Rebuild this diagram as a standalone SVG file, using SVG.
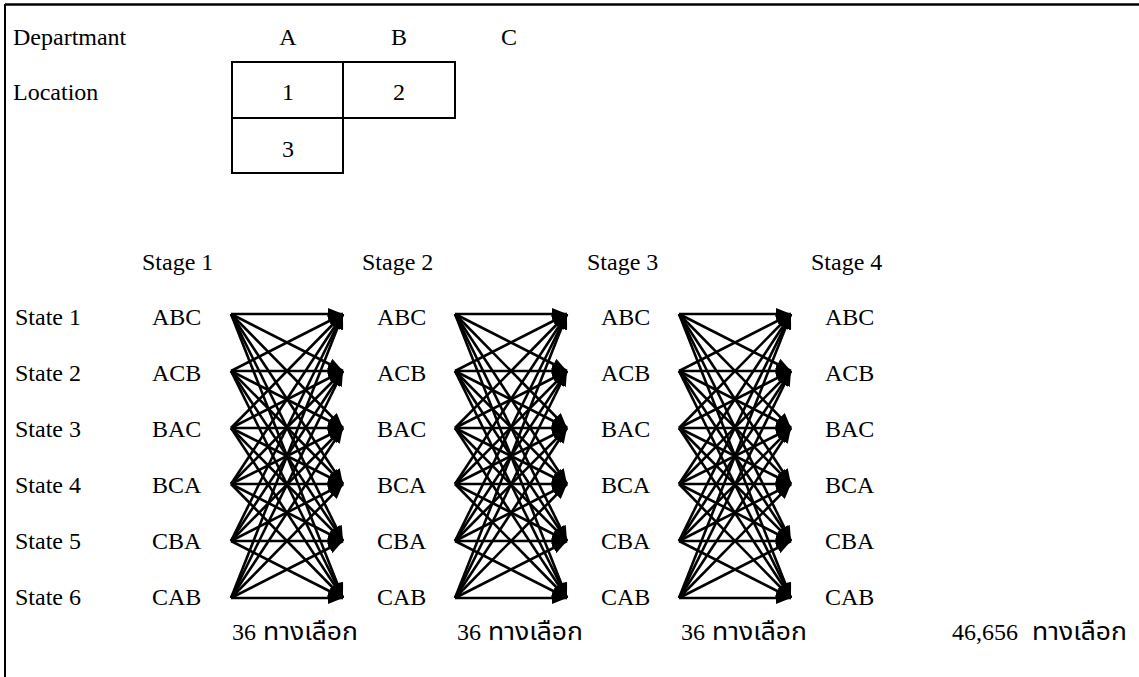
<svg xmlns="http://www.w3.org/2000/svg" width="1139" height="677" viewBox="0 0 1139 677">
<style>
text{font-family:"Liberation Serif","Times New Roman",serif;font-size:24px;fill:#000}
.th{font-family:"Liberation Serif","Noto Sans Thai","Noto Serif Thai","Noto Sans",serif}
.c{text-anchor:middle}
.box{fill:none;stroke:#000;stroke-width:2}
.cn line{stroke:#000;stroke-width:2.6;marker-end:url(#ah)}
</style>
<defs>
<marker id="ah" markerUnits="userSpaceOnUse" markerWidth="16" markerHeight="12" refX="15" refY="6" orient="auto">
<path d="M0,0 L15,6 L0,12 z" fill="#000"/>
</marker>
</defs>
<rect width="1139" height="677" fill="#fff"/>
<g id="frame"><line x1="5" y1="4.5" x2="1139" y2="4.5" stroke="#000" stroke-width="2.5"/><line x1="5" y1="4" x2="5" y2="677" stroke="#000" stroke-width="2"/></g>
<g id="header">
<text x="13" y="45">Departmant</text>
<text class="c" x="288" y="45">A</text>
<text class="c" x="399" y="45">B</text>
<text class="c" x="509" y="45">C</text>
<text x="13" y="100">Location</text>
</g>
<g id="location-grid">
<rect class="box" x="232" y="62" width="111" height="56"/>
<rect class="box" x="343" y="62" width="112" height="56"/>
<rect class="box" x="232" y="118" width="111" height="55"/>
<text class="c" x="288" y="100">1</text>
<text class="c" x="399" y="100">2</text>
<text class="c" x="288" y="157">3</text>
</g>
<g id="stage-labels">
<text x="142" y="270">Stage 1</text>
<text x="362" y="270">Stage 2</text>
<text x="587" y="270">Stage 3</text>
<text x="811" y="270">Stage 4</text>
</g>
<g id="state-labels">
<text x="15" y="325">State 1</text>
<text x="15" y="381">State 2</text>
<text x="15" y="437">State 3</text>
<text x="15" y="493">State 4</text>
<text x="15" y="549">State 5</text>
<text x="15" y="605">State 6</text>
</g>
<g id="stage1-nodes">
<text x="152" y="325">ABC</text><text x="152" y="381">ACB</text><text x="152" y="437">BAC</text><text x="152" y="493">BCA</text><text x="152" y="549">CBA</text><text x="152" y="605">CAB</text>
</g>
<g id="stage2-nodes">
<text x="377" y="325">ABC</text><text x="377" y="381">ACB</text><text x="377" y="437">BAC</text><text x="377" y="493">BCA</text><text x="377" y="549">CBA</text><text x="377" y="605">CAB</text>
</g>
<g id="stage3-nodes">
<text x="601" y="325">ABC</text><text x="601" y="381">ACB</text><text x="601" y="437">BAC</text><text x="601" y="493">BCA</text><text x="601" y="549">CBA</text><text x="601" y="605">CAB</text>
</g>
<g id="stage4-nodes">
<text x="825" y="325">ABC</text><text x="825" y="381">ACB</text><text x="825" y="437">BAC</text><text x="825" y="493">BCA</text><text x="825" y="549">CBA</text><text x="825" y="605">CAB</text>
</g>
<g id="connectors" class="cn">
<line x1="231" y1="314" x2="343" y2="314"/><line x1="231" y1="314" x2="343" y2="371"/><line x1="231" y1="314" x2="343" y2="428"/><line x1="231" y1="314" x2="343" y2="484"/><line x1="231" y1="314" x2="343" y2="541"/><line x1="231" y1="314" x2="343" y2="598"/>
<line x1="231" y1="371" x2="343" y2="314"/><line x1="231" y1="371" x2="343" y2="371"/><line x1="231" y1="371" x2="343" y2="428"/><line x1="231" y1="371" x2="343" y2="484"/><line x1="231" y1="371" x2="343" y2="541"/><line x1="231" y1="371" x2="343" y2="598"/>
<line x1="231" y1="428" x2="343" y2="314"/><line x1="231" y1="428" x2="343" y2="371"/><line x1="231" y1="428" x2="343" y2="428"/><line x1="231" y1="428" x2="343" y2="484"/><line x1="231" y1="428" x2="343" y2="541"/><line x1="231" y1="428" x2="343" y2="598"/>
<line x1="231" y1="484" x2="343" y2="314"/><line x1="231" y1="484" x2="343" y2="371"/><line x1="231" y1="484" x2="343" y2="428"/><line x1="231" y1="484" x2="343" y2="484"/><line x1="231" y1="484" x2="343" y2="541"/><line x1="231" y1="484" x2="343" y2="598"/>
<line x1="231" y1="541" x2="343" y2="314"/><line x1="231" y1="541" x2="343" y2="371"/><line x1="231" y1="541" x2="343" y2="428"/><line x1="231" y1="541" x2="343" y2="484"/><line x1="231" y1="541" x2="343" y2="541"/><line x1="231" y1="541" x2="343" y2="598"/>
<line x1="231" y1="598" x2="343" y2="314"/><line x1="231" y1="598" x2="343" y2="371"/><line x1="231" y1="598" x2="343" y2="428"/><line x1="231" y1="598" x2="343" y2="484"/><line x1="231" y1="598" x2="343" y2="541"/><line x1="231" y1="598" x2="343" y2="598"/>
<line x1="455" y1="314" x2="567" y2="314"/><line x1="455" y1="314" x2="567" y2="371"/><line x1="455" y1="314" x2="567" y2="428"/><line x1="455" y1="314" x2="567" y2="484"/><line x1="455" y1="314" x2="567" y2="541"/><line x1="455" y1="314" x2="567" y2="598"/>
<line x1="455" y1="371" x2="567" y2="314"/><line x1="455" y1="371" x2="567" y2="371"/><line x1="455" y1="371" x2="567" y2="428"/><line x1="455" y1="371" x2="567" y2="484"/><line x1="455" y1="371" x2="567" y2="541"/><line x1="455" y1="371" x2="567" y2="598"/>
<line x1="455" y1="428" x2="567" y2="314"/><line x1="455" y1="428" x2="567" y2="371"/><line x1="455" y1="428" x2="567" y2="428"/><line x1="455" y1="428" x2="567" y2="484"/><line x1="455" y1="428" x2="567" y2="541"/><line x1="455" y1="428" x2="567" y2="598"/>
<line x1="455" y1="484" x2="567" y2="314"/><line x1="455" y1="484" x2="567" y2="371"/><line x1="455" y1="484" x2="567" y2="428"/><line x1="455" y1="484" x2="567" y2="484"/><line x1="455" y1="484" x2="567" y2="541"/><line x1="455" y1="484" x2="567" y2="598"/>
<line x1="455" y1="541" x2="567" y2="314"/><line x1="455" y1="541" x2="567" y2="371"/><line x1="455" y1="541" x2="567" y2="428"/><line x1="455" y1="541" x2="567" y2="484"/><line x1="455" y1="541" x2="567" y2="541"/><line x1="455" y1="541" x2="567" y2="598"/>
<line x1="455" y1="598" x2="567" y2="314"/><line x1="455" y1="598" x2="567" y2="371"/><line x1="455" y1="598" x2="567" y2="428"/><line x1="455" y1="598" x2="567" y2="484"/><line x1="455" y1="598" x2="567" y2="541"/><line x1="455" y1="598" x2="567" y2="598"/>
<line x1="679" y1="314" x2="791" y2="314"/><line x1="679" y1="314" x2="791" y2="371"/><line x1="679" y1="314" x2="791" y2="428"/><line x1="679" y1="314" x2="791" y2="484"/><line x1="679" y1="314" x2="791" y2="541"/><line x1="679" y1="314" x2="791" y2="598"/>
<line x1="679" y1="371" x2="791" y2="314"/><line x1="679" y1="371" x2="791" y2="371"/><line x1="679" y1="371" x2="791" y2="428"/><line x1="679" y1="371" x2="791" y2="484"/><line x1="679" y1="371" x2="791" y2="541"/><line x1="679" y1="371" x2="791" y2="598"/>
<line x1="679" y1="428" x2="791" y2="314"/><line x1="679" y1="428" x2="791" y2="371"/><line x1="679" y1="428" x2="791" y2="428"/><line x1="679" y1="428" x2="791" y2="484"/><line x1="679" y1="428" x2="791" y2="541"/><line x1="679" y1="428" x2="791" y2="598"/>
<line x1="679" y1="484" x2="791" y2="314"/><line x1="679" y1="484" x2="791" y2="371"/><line x1="679" y1="484" x2="791" y2="428"/><line x1="679" y1="484" x2="791" y2="484"/><line x1="679" y1="484" x2="791" y2="541"/><line x1="679" y1="484" x2="791" y2="598"/>
<line x1="679" y1="541" x2="791" y2="314"/><line x1="679" y1="541" x2="791" y2="371"/><line x1="679" y1="541" x2="791" y2="428"/><line x1="679" y1="541" x2="791" y2="484"/><line x1="679" y1="541" x2="791" y2="541"/><line x1="679" y1="541" x2="791" y2="598"/>
<line x1="679" y1="598" x2="791" y2="314"/><line x1="679" y1="598" x2="791" y2="371"/><line x1="679" y1="598" x2="791" y2="428"/><line x1="679" y1="598" x2="791" y2="484"/><line x1="679" y1="598" x2="791" y2="541"/><line x1="679" y1="598" x2="791" y2="598"/>
</g>
<g id="totals">
<text class="th" x="232" y="640"><tspan>36 </tspan><tspan x="263" textLength="95" lengthAdjust="spacingAndGlyphs">ทางเลือก</tspan></text>
<text class="th" x="457" y="640"><tspan>36 </tspan><tspan x="488" textLength="95" lengthAdjust="spacingAndGlyphs">ทางเลือก</tspan></text>
<text class="th" x="681" y="640"><tspan>36 </tspan><tspan x="712" textLength="95" lengthAdjust="spacingAndGlyphs">ทางเลือก</tspan></text>
<text class="th" x="952" y="640"><tspan>46,656</tspan><tspan x="1032" textLength="95" lengthAdjust="spacingAndGlyphs">ทางเลือก</tspan></text>
</g>
</svg>
